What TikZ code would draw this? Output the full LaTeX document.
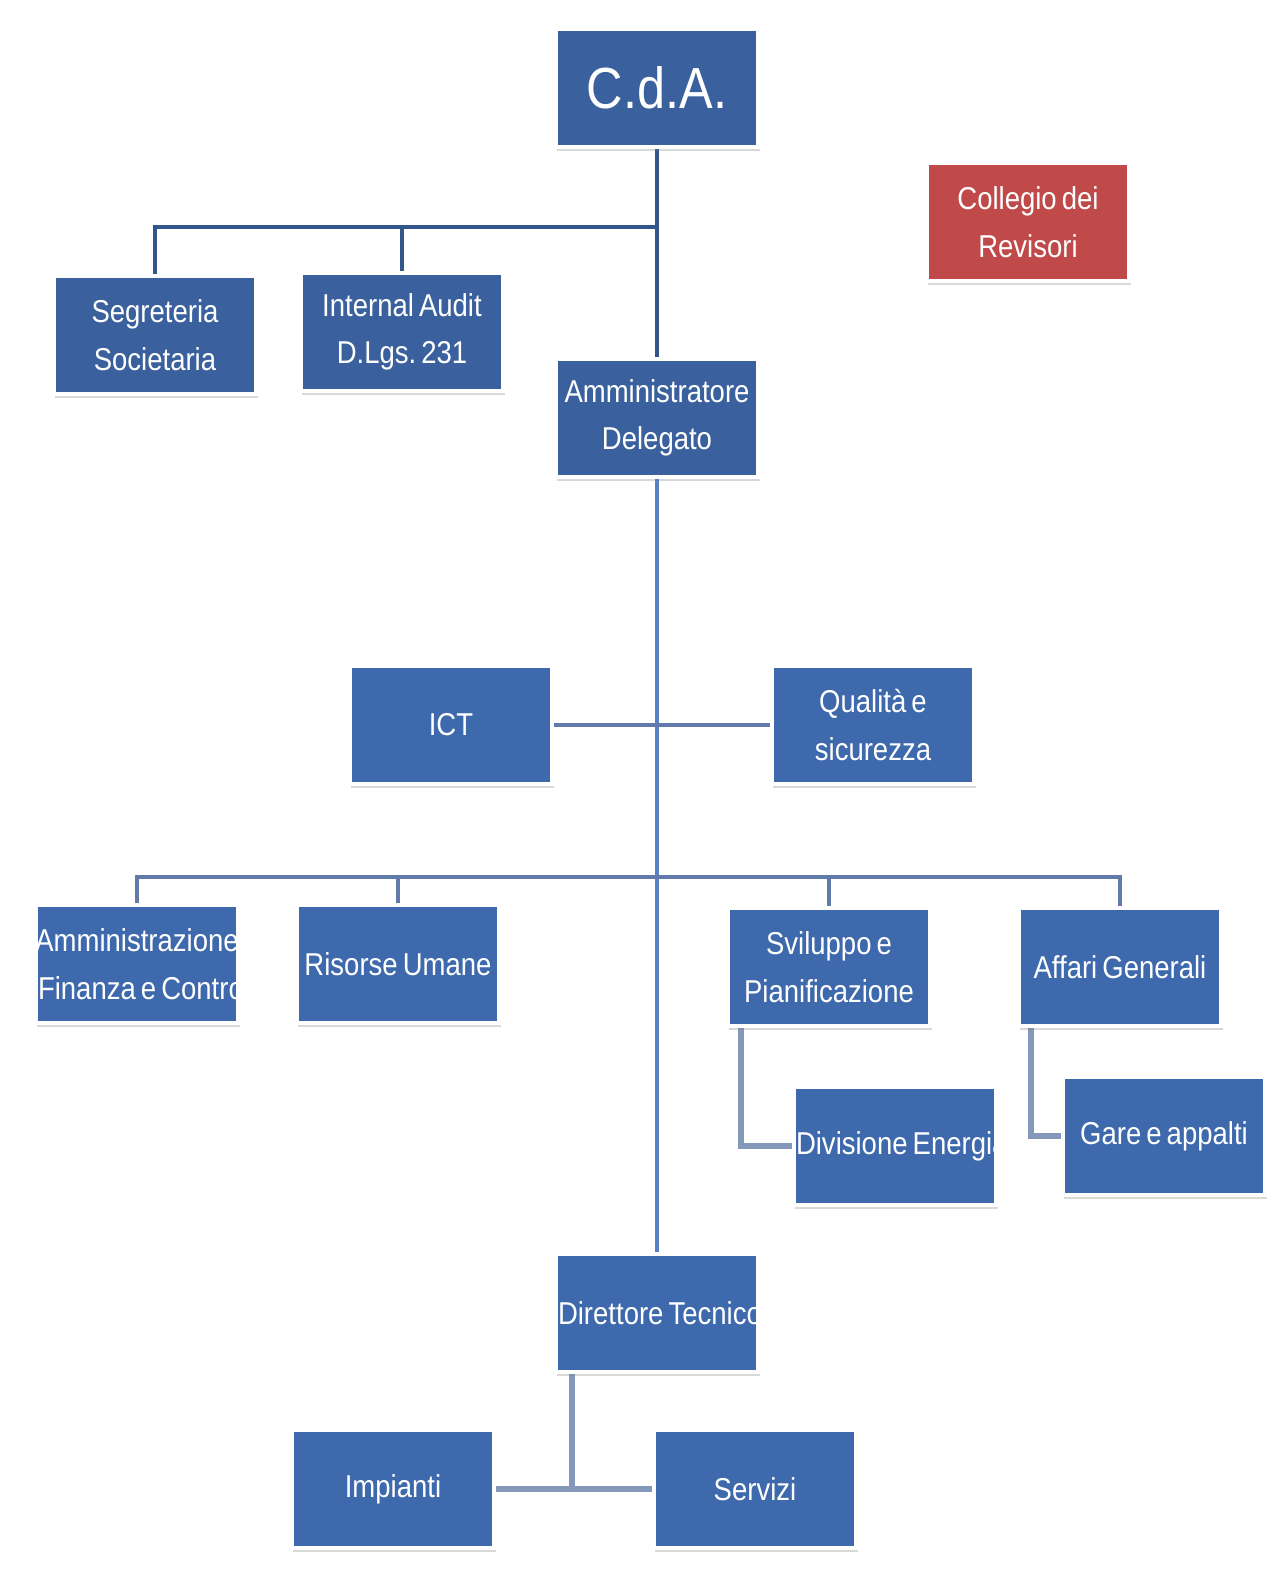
\documentclass[tikz,border=0pt]{standalone}
\usepackage{fontspec}
\setmainfont{Liberation Sans}
\newfontfamily\boxfont{Liberation Sans}[FakeStretch=0.87]
\usetikzlibrary{shadows, backgrounds, calc}

\definecolor{boxblue}{RGB}{62,105,172}
\definecolor{topblue}{RGB}{58,97,158}
\definecolor{boxred}{RGB}{192,74,74}
\definecolor{darkline}{RGB}{50,85,140}
\definecolor{spineline}{RGB}{88,128,196}
\definecolor{branchline}{RGB}{96,122,172}
\definecolor{subgray}{RGB}{132,152,186}

\newcommand{\orgfont}[2]{\boxfont\fontsize{#1}{#2}\selectfont\frenchspacing\fontdimen2\font=0.16em\relax}
\newcommand{\longline}[1]{\makebox[3.96cm][l]{#1}}

\begin{document}
\begin{tikzpicture}[
    x=0.02cm,
    y=-0.02cm,
    orgbox/.style={
        rectangle,
        draw=white,
        line width=2.5pt,
        fill=boxblue,
        text=white,
        minimum width=4.05cm,
        minimum height=2.37cm,
        align=center,
        inner sep=0pt,
        font=\orgfont{18}{27},
        drop shadow={shadow xshift=0.8pt, shadow yshift=-2.2pt, opacity=0.3}
    },
    topbox/.style={
        orgbox,
        fill=topblue
    },
    redbox/.style={
        orgbox,
        fill=boxred
    },
    orgline/.style={
        line width=2.8pt,
        darkline
    },
    spine/.style={
        line width=2.3pt,
        spineline
    },
    branch/.style={
        line width=2.3pt,
        branchline
    },
    subline/.style={
        line width=3pt,
        subgray
    }
]

\useasboundingbox (0,0) rectangle (1276,1580);

% ============================================
% TOP: Board and staff
% ============================================
\node[topbox, font=\orgfont{33}{36}] (cda) at (657,88) {C.d.A.};

\node[redbox] (collegio) at (1028,222) {Collegio dei\\Revisori};

\node[topbox] (seg) at (155,335) {Segreteria\\Societaria};
\node[topbox] (audit) at (402,332) {Internal Audit\\D.Lgs. 231};

\node[topbox] (ad) at (657,418) {Amministratore\\Delegato};

% ============================================
% MIDDLE: Staff of the AD
% ============================================
\node[orgbox] (ict) at (451,725) {ICT};
\node[orgbox] (qual) at (873,725) {Qualità e\\sicurezza};

\node[orgbox] (afc) at (137,964) {Amministrazione\\\longline{Finanza e Controllo}};
\node[orgbox] (ru) at (398,964) {Risorse Umane};
\node[orgbox] (svil) at (829,967) {Sviluppo e\\Pianificazione};
\node[orgbox] (affari) at (1120,967) {Affari Generali};

\node[orgbox] (energia) at (895,1146) {\longline{Divisione Energia}};
\node[orgbox] (gare) at (1164,1136) {Gare e appalti};

% ============================================
% BOTTOM: Technical director
% ============================================
\node[orgbox] (dt) at (657,1313) {\longline{Direttore Tecnico}};

\node[orgbox] (imp) at (393,1489) {Impianti};
\node[orgbox] (serv) at (755,1489) {Servizi};

% Connectors
\begin{scope}[on background layer]
\coordinate (topjoin) at (657,227);
\coordinate (midjoin) at (657,877);

\draw[orgline] (cda.south) -- (ad.north);
\draw[orgline] (seg.north) |- (topjoin);
\draw[orgline] (audit.north) |- (topjoin);

\draw[spine] (ad.south) -- (dt.north);
\draw[branch] (ict.east) -- (qual.west);

\draw[branch] (afc.north) |- (midjoin);
\draw[branch] (ru.north) |- (midjoin);
\draw[branch] (svil.north) |- (midjoin);
\draw[branch] (affari.north) |- (midjoin);

\draw[subline] ([xshift=-1.76cm]svil.south) |- (energia.west);
\draw[subline] ([xshift=-1.78cm]affari.south) |- (gare.west);

\draw[subline] ([xshift=-1.7cm]dt.south) -- ([xshift=-1.7cm]dt.south |- imp.east);
\draw[subline] (imp.east) -- (serv.west);
\end{scope}

\end{tikzpicture}
\end{document}
